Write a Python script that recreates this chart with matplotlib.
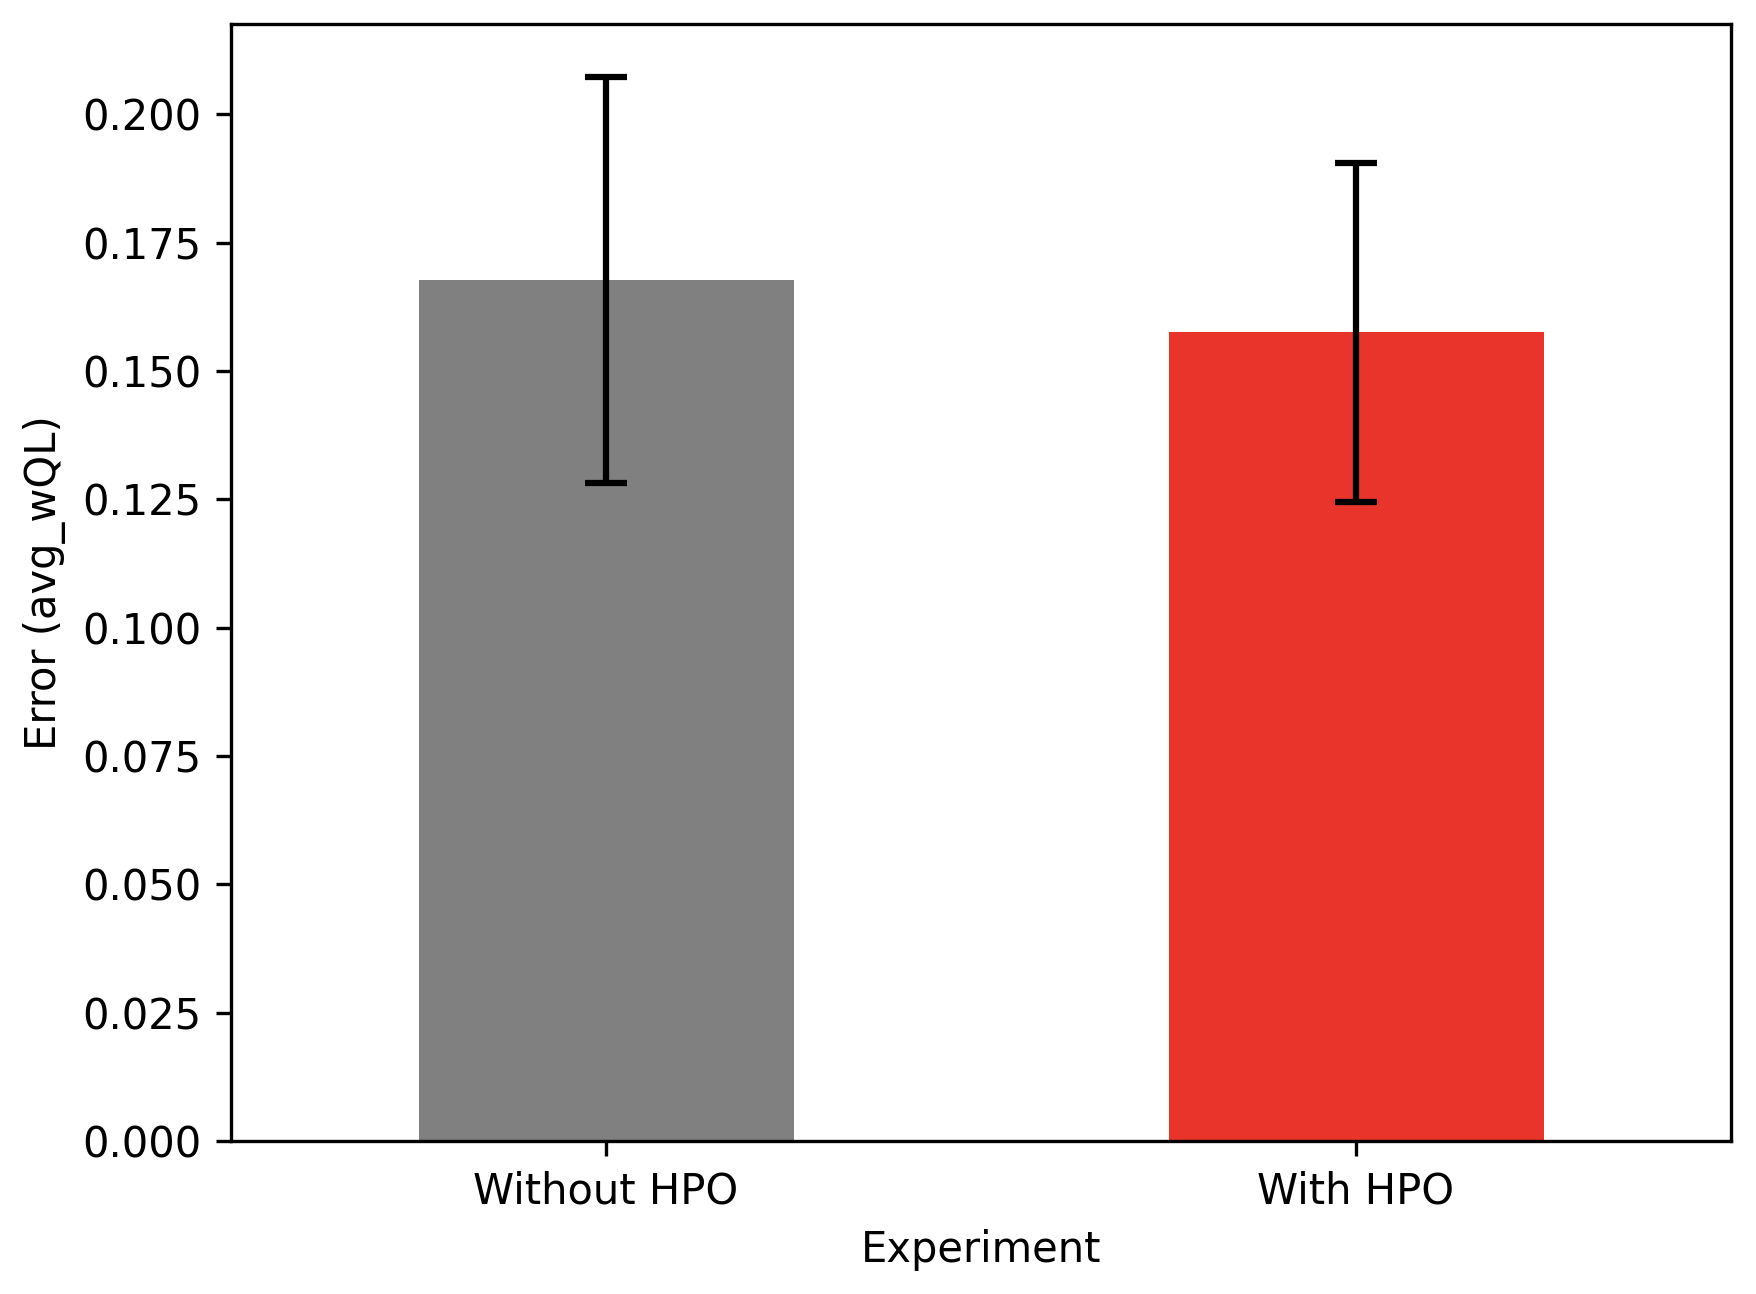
import matplotlib
matplotlib.use("Agg")
import matplotlib.pyplot as plt

# Data
experiments = ["Without HPO", "With HPO"]
mean_error = [0.1677, 0.1575]
std_error = [0.0395, 0.0330]
bar_colors = ["#808080", "#e8342a"]

fig = plt.figure(figsize=(1756 / 300, 1294 / 300), dpi=300)
ax = fig.add_axes([231 / 1756, 1 - 1141 / 1294, 1500 / 1756, 1117 / 1294])

x = range(len(experiments))
ax.bar(x, mean_error, width=0.5, color=bar_colors,
       yerr=std_error, capsize=5,
       error_kw={"elinewidth": 1.5, "capthick": 1.5, "ecolor": "black"})

ax.set_xticks(list(x))
ax.set_xticklabels(experiments, rotation=0)
ax.set_xlim(-0.5, len(experiments) - 0.5)
ax.set_xlabel("Experiment")
ax.set_ylabel("Error (avg_wQL)")

fig.savefig("out.png", dpi=300)
